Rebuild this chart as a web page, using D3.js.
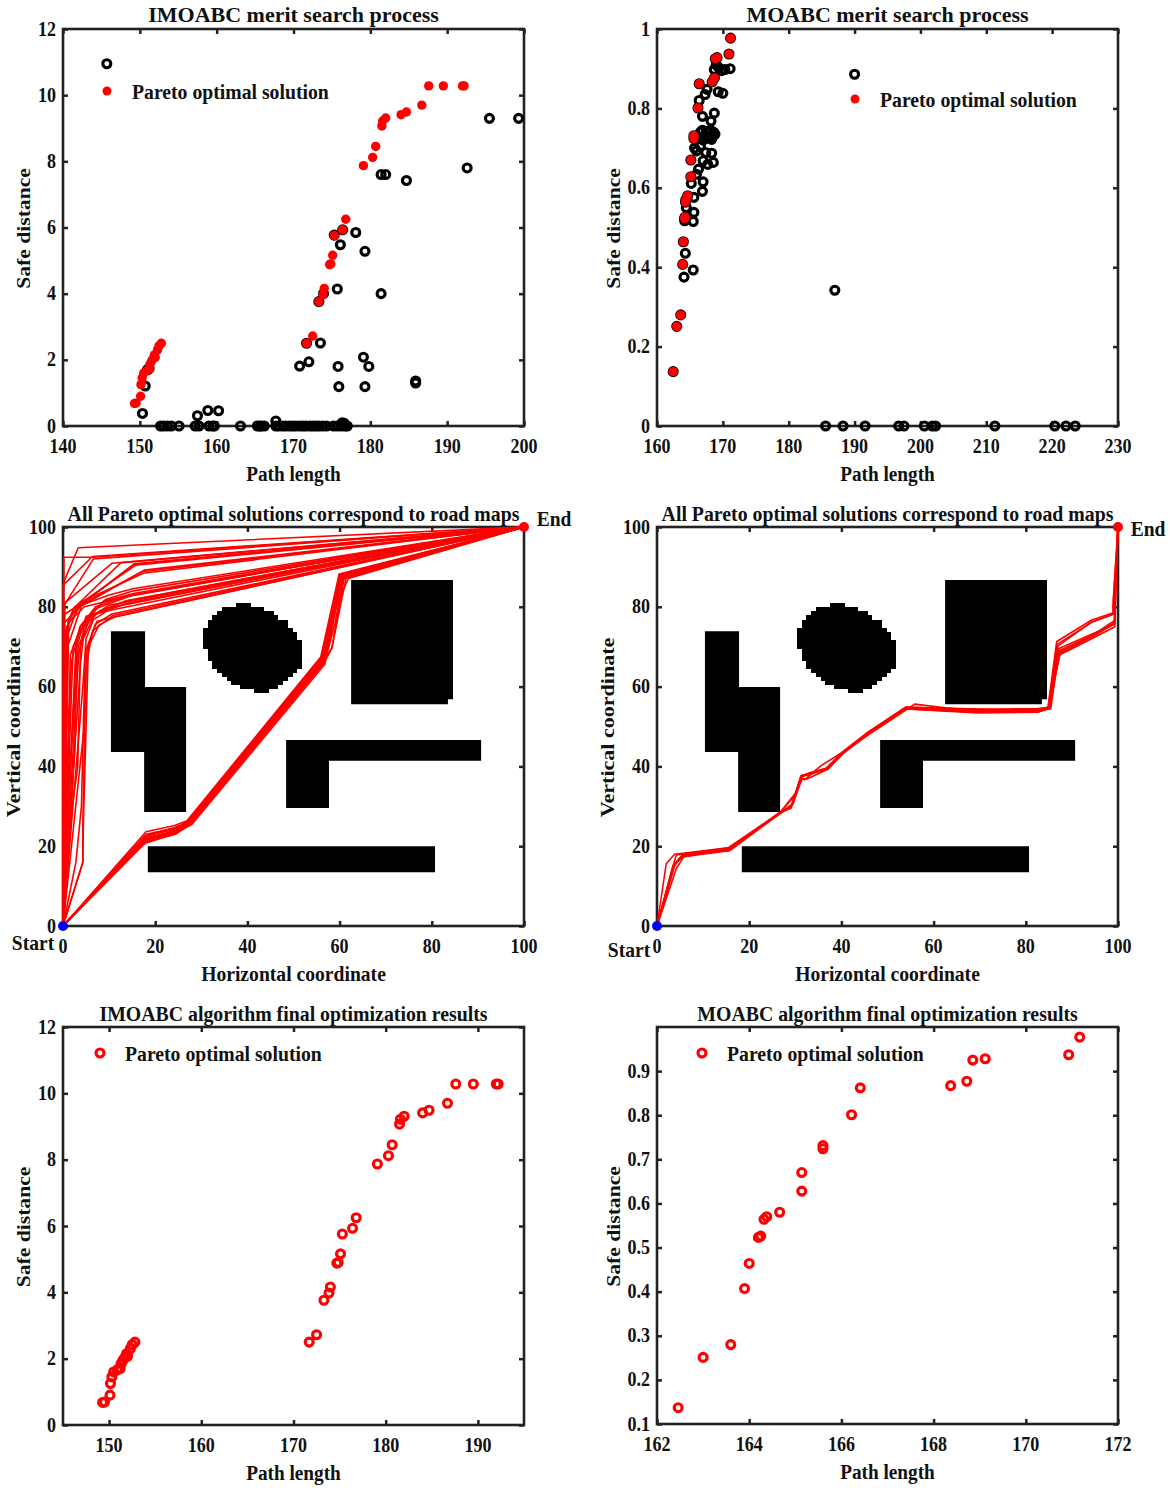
<!DOCTYPE html>
<html>
<head>
<meta charset="utf-8">
<script src="https://cdn.jsdelivr.net/npm/d3@7"></script>
<style>
  body { margin: 0; background: #fff; }
  text { font-family: "Liberation Serif", serif; font-weight: bold; fill: #111; }
</style>
</head>
<body>
<svg id="chart" width="1170" height="1488"></svg>
<script>
// pareto front of the improved algorithm [path length, safe distance]
const imoabcPareto = [
  [149.3,0.68],[149.5,0.69],[150.1,0.9],[150.15,1.25],[150.3,1.45],[150.5,1.6],[150.9,1.67],[151.2,1.7],
  [151.3,1.85],[151.5,1.95],[151.7,2.03],[152,2.07],[151.9,2.15],[152.3,2.3],[152.5,2.42],[152.8,2.5],
  [171.7,2.5],[172.5,2.72],[173.3,3.76],[173.85,3.98],[174,4.16],[174.7,4.88],[174.85,4.9],[175.1,5.16],
  [175.3,5.76],[176.4,5.93],[176.8,6.25],[179.1,7.87],[180.3,8.12],[180.7,8.45],[181.5,9.07],[181.6,9.22],
  [182,9.31],[184,9.41],[184.7,9.49],[186.7,9.7],[187.6,10.28],[189.5,10.28],[192,10.28],[192.2,10.28]
];
// other solutions met during the search
const imoabcSearch = [
  [145.7,10.95],[195.5,9.3],[199.3,9.3],[192.6,7.8],[181.4,7.6],[182,7.6],[184.7,7.42],[178.1,5.85],
  [175.3,5.77],[176.4,5.93],[176.1,5.48],[179.3,5.28],[175.7,4.14],[181.4,4],[173.9,4],[173.3,3.76],
  [173.5,2.51],[171.7,2.5],[172,1.94],[170.8,1.81],[175.8,1.8],[179.1,2.08],[179.8,1.8],[175.9,1.19],
  [179.3,1.19],[185.9,1.36],[185.9,1.3],[151.2,1.74],[151,1.7],[150.7,1.21],[150.35,0.38],[157.5,0.31],
  [158.85,0.47],[160.25,0.46],[167.7,0.15],[176.35,0.1],[176.6,0.08],
  [152.7,0],[153.1,0],[153.6,0],[154.1,0],[155.1,0],[157.2,0],[157.7,0],[159,0],[159.5,0],[159.7,0],
  [163.1,0],[165.3,0],[165.6,0],[165.8,0],[166.2,0],[167.7,0],[168.1,0],[168.6,0],[169,0],[169.5,0],
  [169.9,0],[170.3,0],[170.8,0],[171.2,0],[171.6,0],[172.1,0],[172.5,0],[172.9,0],[173.3,0],[173.8,0],
  [174.3,0],[175.2,0],[175.7,0],[176.2,0],[176.7,0],[177,0]
];
const moabcPareto = [
  [162.46,0.137],[163,0.251],[163.6,0.28],[163.9,0.407],[164,0.464],[164.2,0.523],[164.25,0.526],
  [164.32,0.564],[164.38,0.57],[164.66,0.58],[165.14,0.628],[165.14,0.67],[165.6,0.724],[165.6,0.731],
  [166.22,0.801],[166.41,0.862],[168.37,0.867],[168.72,0.877],[168.85,0.925],[169.12,0.928],[170.93,0.937],[171.17,0.977]
];
const moabcSearch = [
  [190,0.886],[187,0.342],[185.6,0],[188.25,0],[191.6,0],[196.7,0],[197.5,0],[200.6,0],[201.8,0],[202.3,0],
  [211.3,0],[220.4,0],[222.1,0],[223.5,0],
  [171.1,0.9],[170.3,0.898],[169.4,0.902],[168.7,0.898],[169,0.91],[169.8,0.895],[169.3,0.842],[170,0.838],
  [167.3,0.835],[167.6,0.848],[166.4,0.82],[166.9,0.78],[168.7,0.788],[168.2,0.768],
  [166.6,0.74],[166.9,0.745],[167.2,0.73],[167.5,0.742],[167.8,0.725],[168.1,0.745],[168.4,0.73],[168.6,0.74],
  [168.8,0.735],[168.3,0.722],[167,0.72],[166.7,0.725],[168.3,0.687],[168.55,0.664],[167.7,0.659],[167,0.668],
  [167.4,0.689],[166,0.693],[165.7,0.7],[166.6,0.705],[166.3,0.647],[166,0.634],[167,0.615],[166.9,0.591],
  [165.2,0.611],[165.6,0.576],[165.6,0.538],[165.5,0.515],[164.45,0.55],[164.2,0.517],[164.3,0.435],[164.1,0.375],[165.5,0.393]
];

// obstacles of the road map, same for both algorithms
const obstacleL = [[10.4,73.9],[17.8,73.9],[17.8,59.9],[26.7,59.9],[26.7,28.6],[17.6,28.6],[17.6,43.6],[10.4,43.6]];
const obstacleBar = [[18.4,20],[80.7,20],[80.7,13.5],[18.4,13.5]];
const obstacleRect = [[62.5,86.7],[84.6,86.7],[84.6,56.8],[83.5,56.8],[83.5,55.6],[62.5,55.6]];
const obstacleFoot = [[48.4,46.6],[90.7,46.6],[90.7,41.4],[57.7,41.4],[57.7,29.6],[48.4,29.6]];
// pixelated ellipse, one row per grid line: [top, left, right]
const ellipseRows = [
  [80.9,37.5,40.7],[79.9,34.5,43.7],[78.9,33.4,45.7],[77.9,32.4,46.7],[76.8,31.4,48.8],[75.8,31.4,48.8],
  [74.8,30.4,49.8],[73.8,30.4,50.8],[72.8,30.4,50.8],[71.7,30.4,51.8],[70.7,30.4,51.8],[69.7,31.4,51.8],
  [68.7,31.4,51.8],[67.7,31.4,51.8],[66.6,32.4,51.8],[65.6,32.4,51.8],[64.6,33.4,50.8],[63.6,34.5,49.8],
  [62.6,35.5,48.8],[61.5,36.5,47.7],[60.5,38.5,46.7],[59.5,41.5,44.7]
];

// IMOABC routes, corner bundle: waypoints between start and end
const imoabcCornerRoutes = [
  [[0.1,86],[3.3,94.8]],
  [[0.2,92.4],[6.4,92.4]],
  [[0.1,85.5],[6.4,92.6]],
  [[0.3,80.5],[6.6,92]],
  [[0.4,81],[10.6,90.9]],
  [[0.2,78],[2.2,79.5],[12.5,91]],
  [[0.3,76],[4.4,81],[15.4,90.6]],
  [[0.6,74],[2.4,79.8],[15.7,90.4]],
  [[0.8,75],[4,80.6],[15.5,90.8]],
  [[0.7,72],[3.2,80],[17.1,88.8]],
  [[1,70],[4,80.2],[17.6,89.2]],
  [[1.2,76.5],[3.6,81],[17.4,88.4]],
  [[1.1,76.6],[2.5,79.8],[10.2,83],[15.4,84.6]],
  [[1.8,66],[3.7,75],[9.2,81.8],[15.3,84]],
  [[1.6,68],[4,75.5],[8.8,81.4],[15.5,83.4]],
  [[2.2,70],[3.4,73],[7,80],[13.6,82.6]],
  [[2.8,70],[3.7,75],[6.6,79.3],[15.3,83]],
  [[3,71.7],[5,77],[13.1,81.3]],
  [[3.4,68],[4.6,75],[8,79],[14,81.6]],
  [[3.8,66],[4.4,72],[7,78.4],[13.8,80.8]],
  [[4.3,60],[5,72],[6.6,76.8],[10.2,79.4],[14,80.8]],
  [[4.6,50],[5.2,70],[7.4,76.4],[11.3,77.5]],
  [[4.3,16],[4.4,25],[5.5,70],[7.8,75.4],[11,77.4]],
  [[4.3,16],[4.3,25],[5,65],[6.4,74],[10.8,77.8]],
  [[2.8,16],[4,30],[4.8,68],[7,75.6],[10.6,78.2]],
  [[0.6,28],[2.2,50],[3.3,70],[6.2,78],[11.2,80]],
  [[1.4,22],[2.6,45],[3,70],[5,77.6],[10.5,79.2]],
  [[2,30],[3.2,40],[3.8,70],[5.6,77],[10,80.4]],
  [[0.4,30],[1,60],[1.2,76],[4.6,80],[14,82.6]]
];
// IMOABC routes, diagonal bundle
const imoabcDiagonalRoutes = [
  [[18,23.6],[24.2,25.2],[26.9,26.4],[55.9,67.4],[59.9,88.2]],
  [[18,23],[24.6,24.6],[27,26.2],[56,67.2],[59.9,87.6]],
  [[17.8,22.4],[24,24.2],[27.2,26.2],[56.1,66.9],[60.2,87.4]],
  [[17.6,22],[24.2,23.8],[27.3,25.9],[56.3,66.5],[60.6,87.6]],
  [[17.6,21.6],[24.3,23.4],[27.5,25.8],[56.4,66.2],[58.3,69.6],[61,87.4]],
  [[17.4,21],[24.4,23],[27.7,25.6],[56.6,65.9],[58.3,69.6],[61.4,87.2]],
  [[17.4,20.6],[23.6,22.8],[27.9,25.4],[56.8,65.6],[58.6,78.4],[61.9,87.1]],
  [[18.2,22],[23.4,23.4],[27.4,26.4],[56.5,67],[58.6,78],[60.4,87]],
  [[18.4,22.8],[24,24.6],[27.6,26.2],[56.9,66.4],[59,76],[61,87.8]],
  [[17.8,21.4],[24.8,23.6],[27.1,25.4],[56.2,65.9],[58,72],[60,88]],
  [[18.1,21.8],[24.5,24],[28,25.9],[56.7,66.6],[58.2,74],[60.8,87.9]],
  [[17.9,20.9],[23.8,23.2],[27,25.4],[56,66.2],[57.4,71],[60.3,88.1]]
];
// MOABC routes
const moabcRoutes = [
  [[2,15.6],[3.8,18],[15.4,19.6],[26.6,28.3],[29.1,29.8],[31.3,37.7],[33.1,38.3],[36.7,39.3],[40.3,43.5],[45.4,48.1],[54,54.8],[69.6,54],[82.6,54.2],[84.8,54.8],[86.7,71.3],[94.3,76.7],[99,78.5],[98.9,80]],
  [[3.5,14.8],[5.6,17.7],[15.8,19],[26.6,28.3],[30.2,33.5],[31.3,37.2],[32,36.6],[35.6,40.2],[40.6,43.8],[45.8,48],[54.2,54.4],[69.6,53.4],[82.6,53.6],[85,54.5],[86.8,70.6],[94.4,76.2],[99,78.2],[99,82]],
  [[3.2,14],[4.2,17.8],[15.6,19.4],[26.8,28.5],[29.1,29.6],[31.5,37],[32.4,36.8],[36.7,39.1],[40.3,43.2],[45.4,47.6],[55.9,55.6],[66,54.2],[82,54],[85.4,54.4],[87.2,69],[94.4,72.8],[99.3,76.6],[99.4,84]],
  [[3.5,15.2],[5.6,17.4],[15.8,19.1],[26.6,28.3],[29.6,30.8],[31.3,37.4],[33.1,38],[36.7,39.3],[40.6,43.5],[45.8,48.4],[54,54.8],[69.6,54.4],[82.6,54],[84.9,54.5],[87.4,68.3],[94.6,72.6],[99.3,75.8],[99.4,84]],
  [[3.8,15.4],[5.4,17.6],[15.6,19.2],[26.6,28.3],[30.2,33],[31.3,37.7],[33,38],[36.8,39.6],[40,43.2],[45.4,48],[54,54.4],[69.6,53.6],[82.6,54.4],[84.8,54.5],[87.4,68],[94.6,72.2],[99.3,75],[99.6,86]],
  [[3.6,14.8],[5.6,17.9],[15.6,19.6],[26.6,28.1],[29.1,30],[31.3,37.4],[33.1,38.4],[36.7,39.5],[40.3,43.7],[45.4,48.3],[54,54.9],[69.6,54.3],[82.6,54.5],[85,54.8],[87.1,69.5],[94.4,73.2],[99.2,75.6],[99.7,90]],
  [[4.2,14.4],[5.8,17.4],[15.8,18.9],[26.7,28.2],[29.3,30.2],[31.4,37.5],[33,38.2],[37,39.2],[40.5,43.4],[45.6,48],[54.4,54.6],[68,53.8],[83,53.8],[85.2,54.6],[87.3,68.6],[94.5,72.9],[99.2,76],[99.5,88]],
  [[4,15.8],[5,17.2],[15.4,19.2],[26.5,28.4],[29,29.5],[31.2,37.6],[33.2,38.1],[36.6,39.4],[40.2,43.3],[45.3,47.8],[53.8,54.6],[70,53.8],[82.8,54.2],[85,54.6],[87,70.2],[94.3,76.2],[98.9,78.1],[99.3,83]]
];

const start = [0, 0];
const end = [100, 100];

const svg = d3.select('#chart');

// the figure is narrowed sideways, so each text kind carries its own squeeze
function label(x, y, str, size, anchor, sx, rotate) {
  svg.append('text')
    .attr('transform', `translate(${x},${y})` + (rotate ? ` rotate(-90) scale(${sx},0.85)` : ` scale(${sx},1)`))
    .attr('text-anchor', anchor || 'middle')
    .attr('font-size', size)
    .text(str);
}

// box + ticks, returns the scales
function makeAxes(p) {
  const x = d3.scaleLinear().domain(p.xDomain).range([p.left, p.right]);
  const y = d3.scaleLinear().domain(p.yDomain).range([p.bottom, p.top]);
  const g = svg.append('g');

  const bottom = d3.axisBottom(x).tickValues(p.xTicks).tickSizeInner(-5).tickSizeOuter(0);
  const left = d3.axisLeft(y).tickValues(p.yTicks).tickSizeInner(-5).tickSizeOuter(0);
  const top = d3.axisTop(x).tickValues(p.xTicks).tickSizeInner(-5).tickSizeOuter(0);
  const right = d3.axisRight(y).tickValues(p.yTicks).tickSizeInner(-5).tickSizeOuter(0);

  [[bottom, `translate(0,${p.bottom})`], [left, `translate(${p.left},0)`],
   [top, `translate(0,${p.top})`], [right, `translate(${p.right},0)`]].forEach(a => {
    const ag = g.append('g').attr('transform', a[1]).call(a[0]);
    ag.select('.domain').remove();
    ag.selectAll('line').attr('stroke', '#222').attr('stroke-width', 2.5);
    ag.selectAll('text').remove();
  });

  // tick labels, real text squeezed like the rest
  p.xTicks.forEach(t => label(x(t), p.bottom + 27, t, 22, 'middle', 0.82));
  p.yTicks.forEach(t => label(p.left - 7, y(t) + 6.5, t, 22, 'end', 0.82));

  g.append('rect')
    .attr('x', p.left).attr('y', p.top)
    .attr('width', p.right - p.left).attr('height', p.bottom - p.top)
    .attr('fill', 'none').attr('stroke', '#222').attr('stroke-width', 2.6);

  label((p.left + p.right) / 2, p.top + p.titleDy, p.title, p.titleSize, 'middle', p.titleSx);
  label((p.left + p.right) / 2, p.bottom + 55, p.xLabel, 21, 'middle', p.xLabelSx);
  label(p.left - p.yLabelDx, (p.top + p.bottom) / 2 + 1, p.yLabel, 21, 'middle', p.yLabelSx, true);
  return { x, y };
}

function rings(s, data, color) {
  svg.append('g').selectAll('circle').data(data).enter().append('circle')
    .attr('cx', d => s.x(d[0])).attr('cy', d => s.y(d[1]))
    .attr('r', 4).attr('fill', 'none')
    .attr('stroke', color).attr('stroke-width', 3.1);
}
function dots(s, data) {
  svg.append('g').selectAll('circle').data(data).enter().append('circle')
    .attr('cx', d => s.x(d[0])).attr('cy', d => s.y(d[1]))
    .attr('r', 4.7).attr('fill', '#f00');
}

function legend(cx, cy, tx, kind) {
  const c = svg.append('circle').attr('cx', cx).attr('cy', cy);
  if (kind === 'dot') c.attr('r', 4.5).attr('fill', '#f00');
  else c.attr('r', 4).attr('fill', 'none').attr('stroke', '#f00').attr('stroke-width', 3.1);
  label(tx, cy + 8, 'Pareto optimal solution', 22, 'start', 0.897);
}

function roadMap(p, routes) {
  const s = makeAxes(p);
  const line = d3.line().x(d => s.x(d[0])).y(d => s.y(d[1]));
  const blocks = svg.append('g');
  [obstacleL, obstacleBar, obstacleRect, obstacleFoot].forEach(o => {
    blocks.append('path').attr('d', line(o) + 'Z').attr('fill', '#000');
  });
  blocks.selectAll('rect').data(ellipseRows).enter().append('rect')
    .attr('x', d => s.x(d[1])).attr('y', d => s.y(d[0]))
    .attr('width', d => s.x(d[2]) - s.x(d[1]))
    .attr('height', d => s.y(d[0] - 1.2) - s.y(d[0]))
    .attr('fill', '#000').attr('shape-rendering', 'crispEdges');
  svg.append('g').selectAll('path').data(routes).enter().append('path')
    .attr('d', d => line([start, ...d, end]))
    .attr('fill', 'none').attr('stroke', '#f00').attr('stroke-width', 1.6).attr('stroke-linejoin', 'round');
  svg.append('circle').attr('cx', s.x(start[0])).attr('cy', s.y(start[1])).attr('r', 5).attr('fill', '#00f');
  svg.append('circle').attr('cx', s.x(end[0])).attr('cy', s.y(end[1])).attr('r', 5).attr('fill', '#f00');
  return s;
}

const leftCol = { left: 63, right: 524 };
const rightCol = { left: 657, right: 1118 };
const pathAxes = { xLabel: 'Path length', yLabel: 'Safe distance', xLabelSx: 0.917, yLabelSx: 1.03 };

// top row
let s = makeAxes({ ...leftCol, ...pathAxes, top: 29, bottom: 426, xDomain: [140, 200], yDomain: [0, 12],
  xTicks: [140,150,160,170,180,190,200], yTicks: [0,2,4,6,8,10,12], titleDy: -7, titleSize: 22, titleSx: 1,
  title: 'IMOABC merit search process', yLabelDx: 33 });
rings(s, imoabcSearch, '#000');
dots(s, imoabcPareto);
legend(107, 91, 132, 'dot');

s = makeAxes({ ...rightCol, ...pathAxes, top: 29, bottom: 426, xDomain: [160, 230], yDomain: [0, 1],
  xTicks: [160,170,180,190,200,210,220,230], yTicks: [0,0.2,0.4,0.6,0.8,1], titleDy: -7, titleSize: 22, titleSx: 1,
  title: 'MOABC merit search process', yLabelDx: 37 });
rings(s, moabcSearch.concat(moabcPareto), '#000');
dots(s, moabcPareto);
legend(855, 99, 880, 'dot');

// middle row
const mapAxes = { top: 527, bottom: 926, xDomain: [0, 100], yDomain: [0, 100],
  xTicks: [0,20,40,60,80,100], yTicks: [0,20,40,60,80,100], titleDy: -6, titleSize: 21, titleSx: 0.944,
  title: 'All Pareto optimal solutions correspond to road maps',
  xLabel: 'Horizontal coordinate', yLabel: 'Vertical coordinate', xLabelSx: 0.935, yLabelSx: 1.05, yLabelDx: 43 };
roadMap({ ...leftCol, ...mapAxes }, imoabcCornerRoutes.concat(imoabcDiagonalRoutes));
label(33, 950, 'Start', 21, 'middle', 0.93);
label(554, 526, 'End', 21, 'middle', 0.93);
roadMap({ ...rightCol, ...mapAxes }, moabcRoutes);
label(629, 957, 'Start', 21, 'middle', 0.93);
label(1148, 536, 'End', 21, 'middle', 0.93);

// bottom row
s = makeAxes({ ...leftCol, ...pathAxes, top: 1027, bottom: 1425, xDomain: [145, 195], yDomain: [0, 12],
  xTicks: [150,160,170,180,190], yTicks: [0,2,4,6,8,10,12], titleDy: -6, titleSize: 21, titleSx: 0.944,
  title: 'IMOABC algorithm final optimization results', yLabelDx: 33 });
rings(s, imoabcPareto, '#f00');
legend(100, 1053, 125, 'ring');

s = makeAxes({ ...rightCol, ...pathAxes, top: 1027, bottom: 1424, xDomain: [162, 172], yDomain: [0.1, 1],
  xTicks: [162,164,166,168,170,172], yTicks: [0.1,0.2,0.3,0.4,0.5,0.6,0.7,0.8,0.9], titleDy: -6, titleSize: 21, titleSx: 0.944,
  title: 'MOABC algorithm final optimization results', yLabelDx: 37 });
rings(s, moabcPareto, '#f00');
legend(702, 1053, 727, 'ring');
</script>
</body>
</html>
